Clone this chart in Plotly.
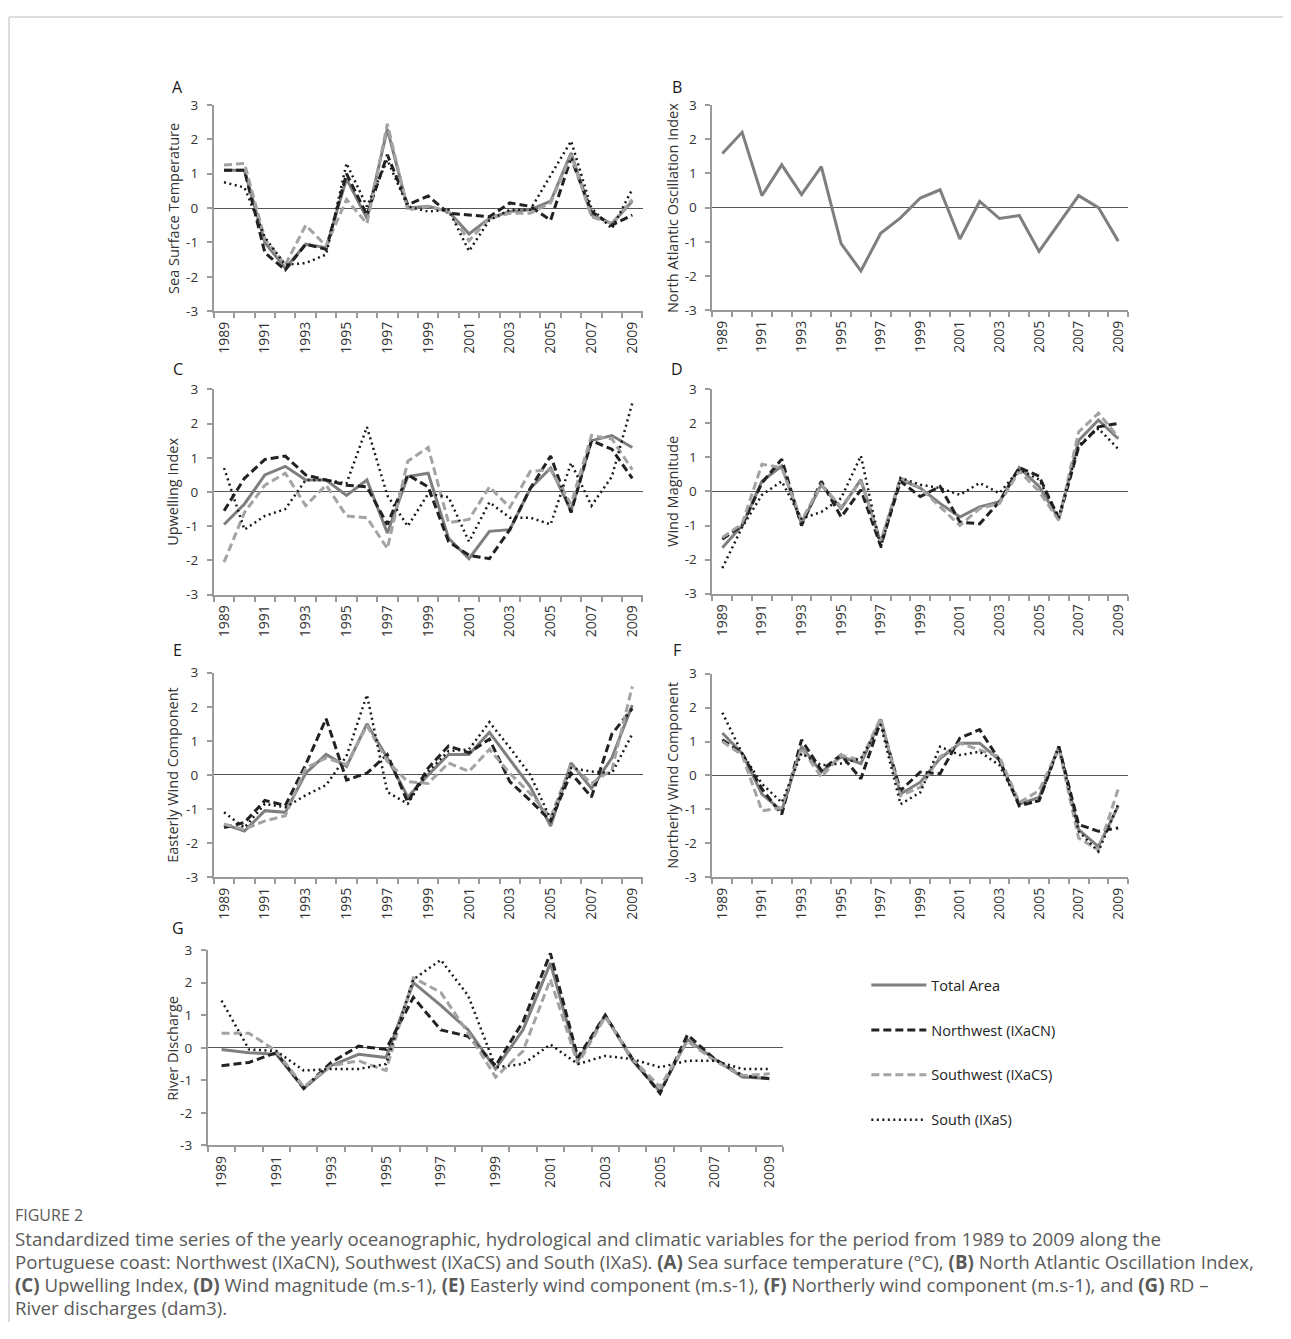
import plotly.graph_objects as go

PAGE_W, PAGE_H = 1291, 1339
OFF = 8  # browser body margin
W, H = PAGE_W - 2 * OFF, PAGE_H - 2 * OFF
# measured vertical placement of the page in the screenshot
V_SHIFT, V_SCALE = 10.3, 0.985

years = list(range(1989, 2010))
tick_years = list(range(1989, 2010, 2))
y_ticks = [3, 2, 1, 0, -1, -2, -3]
y_tick_text = ["3", "2", "1", "0", "-1", "-2", "-3"]

series_names = ["Total Area", "Northwest (IXaCN)", "Southwest (IXaCS)", "South (IXaS)"]

# A - Sea Surface Temperature
sst_total = [1.1, 1.1, -1.0, -1.75, -1.05, -1.15, 0.85, -0.3, 2.3, 0.0, 0.05, -0.1, -0.75, -0.3, -0.1, -0.05, 0.2, 1.6, -0.2, -0.45, 0.2]
sst_nw = [1.1, 1.1, -1.3, -1.8, -1.05, -1.2, 1.0, -0.2, 1.55, 0.1, 0.35, -0.15, -0.2, -0.25, 0.15, 0.05, -0.35, 1.45, -0.1, -0.5, -0.2]
sst_sw = [1.25, 1.3, -0.9, -1.65, -0.5, -1.1, 0.25, -0.45, 2.45, -0.05, 0.05, -0.1, -0.95, -0.3, -0.15, -0.15, 0.15, 1.55, -0.25, -0.45, 0.25]
sst_s = [0.75, 0.6, -0.85, -1.65, -1.6, -1.35, 1.3, 0.05, 1.4, 0.05, -0.1, -0.05, -1.25, -0.35, -0.05, -0.05, 0.95, 1.95, 0.0, -0.6, 0.55]

# B - North Atlantic Oscillation Index
nao = [1.58, 2.2, 0.35, 1.25, 0.38, 1.2, -1.05, -1.85, -0.75, -0.3, 0.28, 0.52, -0.92, 0.18, -0.32, -0.23, -1.28, -0.47, 0.35, 0.0, -0.98]

# C - Upwelling Index
ui_total = [-0.95, -0.35, 0.5, 0.75, 0.35, 0.35, -0.1, 0.35, -1.2, 0.45, 0.55, -1.35, -1.95, -1.15, -1.1, 0.1, 0.7, -0.55, 1.5, 1.65, 1.3]
ui_nw = [-0.55, 0.4, 0.95, 1.05, 0.5, 0.35, 0.2, 0.15, -0.95, 0.5, 0.15, -1.45, -1.85, -1.95, -1.1, 0.1, 1.05, -0.6, 1.5, 1.25, 0.4]
ui_sw = [-2.05, -0.6, 0.2, 0.55, -0.4, 0.2, -0.7, -0.75, -1.65, 0.9, 1.3, -0.9, -0.8, 0.15, -0.45, 0.6, 0.65, -0.35, 1.65, 1.55, 0.65]
ui_s = [0.7, -1.1, -0.7, -0.5, 0.35, 0.35, 0.25, 1.9, -0.1, -1.0, -0.05, -0.15, -1.45, -0.3, -0.75, -0.75, -0.95, 0.85, -0.4, 0.45, 2.6]

# D - Wind Magnitude
wm_total = [-1.65, -1.0, 0.3, 0.75, -0.95, 0.2, -0.5, 0.35, -1.5, 0.35, 0.1, -0.35, -0.75, -0.45, -0.3, 0.7, 0.15, -0.8, 1.5, 2.1, 1.55]
wm_nw = [-1.4, -1.0, 0.25, 0.95, -1.0, 0.3, -0.75, 0.05, -1.6, 0.3, -0.15, 0.15, -0.9, -0.95, -0.3, 0.7, 0.45, -0.8, 1.3, 1.9, 2.0]
wm_sw = [-1.35, -0.95, 0.8, 0.7, -0.85, 0.2, -0.45, 0.3, -1.45, 0.4, 0.1, -0.45, -1.0, -0.5, -0.35, 0.6, 0.0, -0.85, 1.75, 2.3, 1.6]
wm_s = [-2.25, -1.05, -0.1, 0.3, -0.8, -0.6, -0.2, 1.05, -1.65, 0.4, 0.2, 0.1, -0.1, 0.25, -0.05, 0.65, 0.35, -0.75, 1.35, 1.85, 1.25]

# E - Easterly Wind Component
ew_total = [-1.45, -1.65, -1.05, -1.1, 0.05, 0.6, 0.25, 1.5, 0.5, -0.65, 0.0, 0.6, 0.6, 1.25, 0.45, -0.35, -1.5, 0.35, -0.4, 0.5, 2.05]
ew_nw = [-1.55, -1.4, -0.75, -0.9, 0.3, 1.65, -0.15, 0.05, 0.6, -0.8, 0.2, 0.85, 0.65, 1.05, -0.2, -0.75, -1.35, 0.05, -0.65, 1.2, 1.95]
ew_sw = [-1.45, -1.6, -1.35, -1.2, 0.2, 0.5, 0.3, 1.45, 0.4, -0.2, -0.25, 0.35, 0.1, 0.75, 0.05, -0.55, -1.25, 0.3, -0.25, 0.15, 2.6]
ew_s = [-1.1, -1.55, -0.85, -0.95, -0.6, -0.3, 0.55, 2.35, -0.5, -0.85, 0.1, 0.7, 0.75, 1.55, 0.8, 0.0, -1.3, 0.2, 0.1, 0.05, 1.2]

# F - Northerly Wind Component
nw_total = [1.25, 0.65, -0.55, -1.05, 0.85, 0.1, 0.55, 0.35, 1.65, -0.55, -0.2, 0.5, 0.95, 0.95, 0.45, -0.85, -0.65, 0.85, -1.6, -2.1, -0.9]
nw_nw = [1.05, 0.65, -0.4, -1.15, 1.05, 0.15, 0.6, -0.1, 1.6, -0.45, 0.1, 0.05, 1.1, 1.35, 0.45, -0.9, -0.75, 0.85, -1.45, -1.65, -1.55]
nw_sw = [1.0, 0.6, -1.05, -0.95, 0.8, -0.05, 0.6, 0.45, 1.7, -0.6, -0.35, 0.55, 0.95, 0.75, 0.55, -0.8, -0.45, 0.8, -1.85, -2.2, -0.4]
nw_s = [1.85, 0.65, -0.25, -0.8, 0.65, 0.3, 0.35, 0.5, 1.5, -0.85, -0.5, 0.85, 0.6, 0.7, 0.3, -0.85, -0.75, 0.85, -1.65, -2.25, -0.85]

# G - River Discharge
rd_total = [-0.05, -0.15, -0.2, -1.25, -0.55, -0.2, -0.3, 2.0, 1.3, 0.55, -0.65, 0.55, 2.6, -0.4, 1.0, -0.4, -1.35, 0.25, -0.35, -0.9, -0.95]
rd_nw = [-0.55, -0.45, -0.15, -1.25, -0.45, 0.05, -0.05, 1.55, 0.55, 0.35, -0.55, 0.8, 2.9, -0.3, 1.0, -0.35, -1.4, 0.4, -0.35, -0.85, -0.95]
rd_sw = [0.45, 0.45, -0.1, -1.2, -0.55, -0.4, -0.7, 2.15, 1.7, 0.45, -0.9, -0.1, 2.1, -0.5, 0.95, -0.35, -1.2, 0.2, -0.4, -0.85, -0.8]
rd_s = [1.45, -0.05, -0.1, -0.7, -0.65, -0.65, -0.5, 2.1, 2.7, 1.6, -0.6, -0.5, 0.1, -0.5, -0.25, -0.35, -0.6, -0.4, -0.4, -0.65, -0.65]

styles = {
    "Total Area": dict(color="#7f7f7f", width=3, dash="solid"),
    "Northwest (IXaCN)": dict(color="#222222", width=3, dash="8px,4px"),
    "Southwest (IXaCS)": dict(color="#a3a3a3", width=3, dash="8px,4px"),
    "South (IXaS)": dict(color="#1a1a1a", width=2.5, dash="2px,3.5px"),
}

panels = [
    dict(letter="A", title="Sea Surface Temperature", data=[sst_total, sst_nw, sst_sw, sst_s], box=(213, 642, 106, 312), lab=(177, 88), ytx=172),
    dict(letter="B", title="North Atlantic Oscillation Index", data=[nao], box=(712, 1128, 106, 311), lab=(677, 88), ytx=672),
    dict(letter="C", title="Upwelling Index", data=[ui_total, ui_nw, ui_sw, ui_s], box=(213, 642, 390, 595), lab=(177, 370), ytx=172),
    dict(letter="D", title="Wind Magnitude", data=[wm_total, wm_nw, wm_sw, wm_s], box=(712, 1128, 390, 594), lab=(677, 370), ytx=672),
    dict(letter="E", title="Easterly Wind Component", data=[ew_total, ew_nw, ew_sw, ew_s], box=(213, 642, 673, 877), lab=(177, 650), ytx=172),
    dict(letter="F", title="Northerly Wind Component", data=[nw_total, nw_nw, nw_sw, nw_s], box=(712, 1128, 674, 877), lab=(677, 650), ytx=672),
    dict(letter="G", title="River Discharge", data=[rd_total, rd_nw, rd_sw, rd_s], box=(207, 783, 950, 1145), lab=(177, 928), ytx=172),
]


def px(x):
    return (x - OFF) / W


def py(y):
    f = (y - V_SHIFT) / V_SCALE - OFF
    return 1 - f / H


FONT = "'Open Sans', 'Noto Sans', sans-serif"
fig = go.Figure()
layout = dict(
    width=W, height=H,
    margin=dict(l=0, r=0, t=0, b=0),
    paper_bgcolor="white", plot_bgcolor="white",
    font=dict(family=FONT, color="#333333"),
    showlegend=True,
)
annotations = []
shapes = []

for i, p in enumerate(panels):
    n = i + 1
    xa = "x" if n == 1 else f"x{n}"
    ya = "y" if n == 1 else f"y{n}"
    x0, x1, yt, yb = p["box"]
    for k, vals in enumerate(p["data"]):
        name = series_names[k]
        st = styles[name]
        fig.add_trace(go.Scatter(
            x=years, y=vals, mode="lines", name=name,
            line=dict(color=st["color"], width=st["width"], dash=st["dash"]),
            xaxis=xa, yaxis=ya,
            showlegend=(p["letter"] == "A"), legendgroup=name,
            hoverinfo="skip",
        ))
    layout["xaxis" if n == 1 else f"xaxis{n}"] = dict(
        domain=[px(x0), px(x1)], anchor=ya, range=[1988.5, 2009.5],
        tickmode="array", tickvals=tick_years, ticktext=[str(y) for y in tick_years],
        ticks="", tickangle=-90, tickfont=dict(size=14, color="#333333"),
        ticklabelstandoff=3,
        showline=True, linecolor="#9a9a9a", linewidth=2,
        showgrid=False, zeroline=False,
        minor=dict(tickmode="linear", tick0=1988.5, dtick=1, ticks="outside", ticklen=5,
                   tickcolor="#9a9a9a", tickwidth=1.5, showgrid=False),
        fixedrange=True,
    )
    layout["yaxis" if n == 1 else f"yaxis{n}"] = dict(
        domain=[py(yb), py(yt)], anchor=xa, range=[-3, 3],
        tickmode="array", tickvals=y_ticks, ticktext=y_tick_text,
        ticks="outside", ticklen=5, tickcolor="#9a9a9a", tickwidth=1.5,
        tickfont=dict(size=13.5, color="#333333"), ticklabelstandoff=6,
        showline=True, linecolor="#9a9a9a", linewidth=2,
        showgrid=False, zeroline=True, zerolinecolor="#555555", zerolinewidth=1,
        fixedrange=True,
    )
    annotations.append(dict(
        text=p["letter"], xref="paper", yref="paper",
        x=px(p["lab"][0]), y=py(p["lab"][1]), xanchor="center", yanchor="middle",
        showarrow=False, font=dict(size=16, color="#1a1a1a"),
    ))
    annotations.append(dict(
        text=p["title"], xref="paper", yref="paper",
        x=px(p["ytx"]), y=py((yt + yb) / 2), xanchor="center", yanchor="middle",
        textangle=-90, showarrow=False, font=dict(size=14.5, color="#333333"),
    ))

caption_color = "#5a5a5a"
annotations.append(dict(
    text="FIGURE 2", xref="paper", yref="paper", x=px(12), y=py(1214),
    xanchor="left", yanchor="middle", showarrow=False,
    font=dict(size=16, color=caption_color, family=FONT),
))
caption_lines = [
    "Standardized time series of the yearly oceanographic, hydrological and climatic variables for the period from 1989 to 2009 along the",
    "Portuguese coast: Northwest (IXaCN), Southwest (IXaCS) and South (IXaS). <b>(A)</b> Sea surface temperature (°C), <b>(B)</b> North Atlantic Oscillation Index,",
    "<b>(C)</b> Upwelling Index, <b>(D)</b> Wind magnitude (m.s-1), <b>(E)</b> Easterly wind component (m.s-1), <b>(F)</b> Northerly wind component (m.s-1), and <b>(G)</b> RD –",
    "River discharges (dam3).",
]
for j, line in enumerate(caption_lines):
    annotations.append(dict(
        text=line, xref="paper", yref="paper", x=px(12), y=py(1238 + 23 * j),
        xanchor="left", yanchor="middle", showarrow=False,
        font=dict(size=18.7, color=caption_color, family=FONT),
    ))

# card border: top and left edges
shapes.append(dict(type="line", xref="paper", yref="paper", x0=0, x1=1, y0=1, y1=1,
                   line=dict(color="#dddddd", width=2)))
shapes.append(dict(type="line", xref="paper", yref="paper", x0=0, x1=0, y0=0, y1=1,
                   line=dict(color="#dddddd", width=2)))

layout["annotations"] = annotations
layout["shapes"] = shapes
layout["legend"] = dict(
    x=px(866), y=py(969), xanchor="left", yanchor="top",
    bgcolor="rgba(0,0,0,0)", font=dict(size=14.5, color="#222222", family=FONT),
    tracegroupgap=23, itemwidth=55, traceorder="grouped",
)
fig.update_layout(**layout)
fig.write_html("out.html")
